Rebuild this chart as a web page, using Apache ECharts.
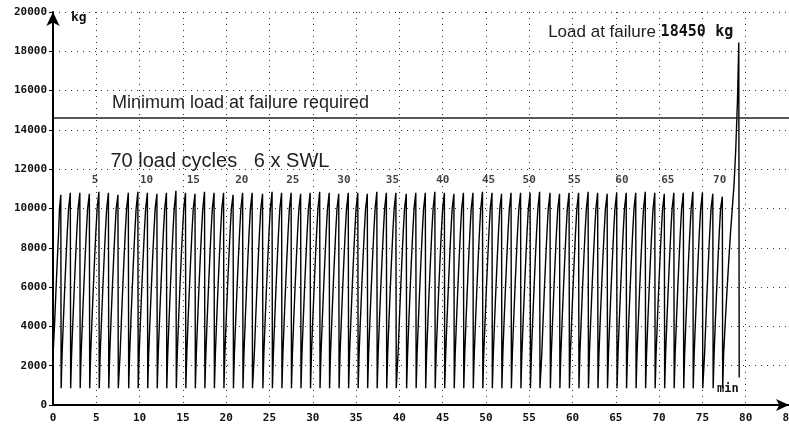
<!DOCTYPE html>
<html>
<head>
<meta charset="utf-8">
<script src="https://cdn.jsdelivr.net/npm/echarts@6/dist/echarts.min.js"></script>
<style>
html,body{margin:0;padding:0;background:#fff;}
#chart{width:789px;height:427px;}
</style>
</head>
<body>
<div id="chart"></div>
<script>
// time of each cycle peak (min)
var peakTimes=[0.9,2.0,3.1,4.2,5.3,6.4,7.5,8.7,9.8,10.9,
  12.0,13.1,14.2,15.3,16.4,17.5,18.6,19.7,20.8,21.9,
  23.0,24.2,25.3,26.4,27.5,28.6,29.7,30.8,31.9,33.0,
  34.1,35.2,36.3,37.4,38.5,39.6,40.8,41.9,43.0,44.1,
  45.2,46.3,47.4,48.5,49.6,50.7,51.8,52.9,54.0,55.1,
  56.2,57.4,58.5,59.6,60.7,61.8,62.9,64.0,65.1,66.2,
  67.3,68.4,69.5,70.6,71.7,72.8,73.9,75.0,76.2,77.3];
// peak load of each cycle (kg)
var peakLoads=[10700,10800,10800,10750,10850,10800,10700,10800,10850,10800,
  10750,10800,10900,10800,10750,10850,10800,10800,10700,10800,
  10800,10750,10850,10800,10800,10750,10800,10850,10800,10750,
  10800,10800,10750,10850,10800,10800,10750,10800,10800,10850,
  10800,10750,10800,10800,10850,10800,10750,10800,10800,10800,
  10850,10800,10750,10800,10800,10850,10800,10750,10800,10800,
  10800,10850,10800,10750,10800,10800,10850,10800,10750,10600];
var lowLoad=850;
// stair steps of the rise: minutes before the peak, load
var riseLead=[0.95,0.8,0.65,0.5,0.35,0.2];
var riseLoads=[2600,4300,5900,7400,8800,10000];
var dropLag=0.04;
// first partial rise at the start
var firstTimes=[0.05,0.2,0.35,0.5,0.65,0.75];
var firstLoads=[2900,4300,5900,7400,8800,10000];
// last rise up to failure
var failTimes=[77.45,77.65,77.85,78.05,78.25,78.45,78.65,78.85,79.05,79.2,79.25];
var failLoads=[2600,4300,5900,7400,8800,10000,11200,13000,15500,18450,1400];
var failLoad=18450;
var minRequired=14600;
// cycle counter labels
var cycleNumbers=[5,10,15,20,25,30,35,40,45,50,55,60,65,70];
var cycleLabelTimes=[4.85,10.8,16.2,21.8,27.7,33.6,39.2,45.0,50.3,55.0,60.2,65.7,71.0,77.0];
var cycleLabelLoad=11450;
var xTicks=[0,85,5];
var yTicks=[0,20000,2000];

var loadData=[];
firstTimes.forEach(function(t,i){
  loadData.push([t,firstLoads[i]]);
});
peakTimes.forEach(function(tp,k){
  if(k>0){
    riseLead.forEach(function(d,i){
      loadData.push([+(tp-d).toFixed(2),riseLoads[i]]);
    });
  }
  loadData.push([tp,peakLoads[k]]);
  loadData.push([+(tp+dropLag).toFixed(2),lowLoad]);
});
failTimes.forEach(function(t,i){
  loadData.push([t,failLoads[i]]);
});

var labelData=cycleLabelTimes.map(function(t){return [t,cycleLabelLoad];});

var mono='"DejaVu Sans Mono", monospace';
var sans='"Liberation Sans", Arial, sans-serif';
var chart=echarts.init(document.getElementById("chart"));
chart.setOption({
  animation:false,
  backgroundColor:'#fff',
  grid:{left:53,right:0,top:12,bottom:22,outerBoundsMode:'none'},
  xAxis:{
    type:'value',
    min:xTicks[0],
    max:xTicks[1],
    interval:xTicks[2],
    name:'min',
    nameLocation:'end',
    nameGap:-72,
    nameTextStyle:{color:'#111',fontFamily:mono,fontWeight:'bold',fontSize:12,verticalAlign:'bottom',padding:[0,0,10,0]},
    axisLine:{lineStyle:{color:'#000',width:2},symbol:['none','arrow'],symbolSize:[9,13]},
    axisTick:{show:false},
    axisLabel:{color:'#111',fontFamily:mono,fontWeight:'bold',fontSize:11,margin:8},
    splitLine:{show:true,lineStyle:{color:'#333',type:[1,5],width:1}}
  },
  yAxis:{
    type:'value',
    min:yTicks[0],
    max:yTicks[1],
    interval:yTicks[2],
    name:'kg',
    nameLocation:'end',
    nameGap:-12,
    nameTextStyle:{color:'#111',fontFamily:mono,fontWeight:'bold',fontSize:13,align:'left',padding:[0,0,0,18]},
    axisLine:{show:true,lineStyle:{color:'#000',width:2},symbol:['none','arrow'],symbolSize:[10,14]},
    axisTick:{show:true,length:4,lineStyle:{color:'#000'}},
    axisLabel:{color:'#111',fontFamily:mono,fontWeight:'bold',fontSize:11,margin:6,
      formatter:function(v){return String(v);}},
    splitLine:{show:true,lineStyle:{color:'#333',type:[1,5],width:1}}
  },
  series:[
    {
      name:'load',
      type:'line',
      step:'end',
      data:loadData,
      showSymbol:false,
      lineStyle:{color:'#000',width:1.4},
      markLine:{
        silent:true,
        symbol:'none',
        data:[{yAxis:minRequired}],
        lineStyle:{color:'#222',type:'solid',width:1.5},
        label:{
          position:'insideStartTop',
          formatter:'Minimum load at failure required',
          color:'#222',
          fontFamily:sans,
          fontSize:18,
          padding:[0,0,1,54]
        }
      },
      markPoint:{
        silent:true,
        symbol:'circle',
        symbolSize:1,
        itemStyle:{color:'rgba(0,0,0,0)'},
        data:[
          {
            coord:[79.2,failLoad],
            label:{
              show:true,
              position:'left',
              offset:[0,-10],
              formatter:'Load at failure {b|'+failLoad+'}  {b|kg}',
              color:'#222',
              fontFamily:sans,
              fontSize:17,
              rich:{b:{fontFamily:mono,fontWeight:'bold',fontSize:15,color:'#111'}}
            }
          },
          {
            coord:[6.0,12370],
            label:{
              show:true,
              position:'right',
              formatter:'70 load cycles   6 x SWL',
              color:'#222',
              fontFamily:sans,
              fontSize:20
            }
          }
        ]
      }
    },
    {
      name:'cycles',
      type:'scatter',
      data:labelData,
      symbolSize:1,
      itemStyle:{color:'rgba(0,0,0,0)'},
      silent:true,
      label:{
        show:true,
        position:'inside',
        formatter:function(p){return cycleNumbers[p.dataIndex];},
        color:'#111',
        fontFamily:mono,
        fontWeight:'bold',
        fontSize:11
      }
    }
  ]
});
</script>
</body>
</html>
